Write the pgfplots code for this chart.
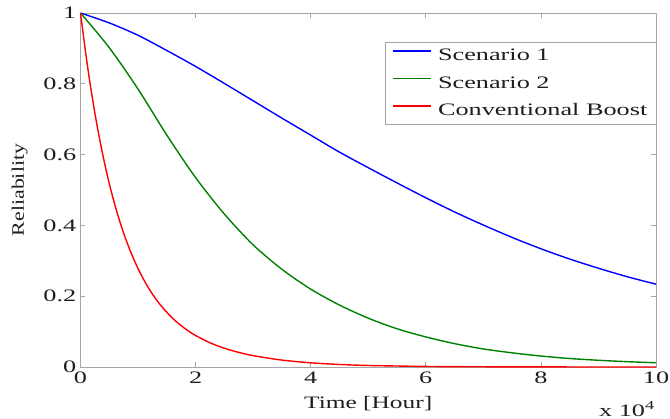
\documentclass[border=0pt]{standalone}
\usepackage{fontspec}
\usepackage{pgfplots}
\pgfplotsset{compat=1.18}
\setmainfont{Liberation Serif}
% wide serif faces for the figure text
\newfontfamily\tickfont{Liberation Serif}[FakeStretch=1.5]
\newfontfamily\xlabfont{Liberation Serif}[FakeStretch=1.45]
\newfontfamily\ylabfont{Liberation Serif}[FakeStretch=1.25]

\definecolor{mblue}{RGB}{0,0,255}
\definecolor{mgreen}{RGB}{0,128,0}
\definecolor{mred}{RGB}{255,0,0}
\definecolor{axgray}{RGB}{165,165,165}
\definecolor{txt}{RGB}{30,30,30}

% reliability versus time (time in units of 10^4 hours)
\pgfplotstableread{
t R
0    1
0.5  0.972
1    0.937
1.5  0.894
2    0.849
2.5  0.801
3    0.752
3.5  0.703
4    0.655
4.5  0.607
5    0.563
5.5  0.520
6    0.478
6.5  0.438
7    0.401
7.5  0.366
8    0.334
8.5  0.305
9    0.279
9.5  0.255
10   0.234
}\scenarioone

\pgfplotstableread{
t R
0    1
0.5  0.902
1    0.785
1.5  0.655
2    0.535
2.5  0.432
3    0.345
3.5  0.276
4    0.220
4.5  0.175
5    0.138
5.5  0.108
6    0.085
6.5  0.066
7    0.051
7.5  0.040
8    0.031
8.5  0.024
9    0.019
9.5  0.015
10   0.012
}\scenariotwo

\pgfplotstableread{
t R
0     1
0.125 0.846
0.25  0.717
0.375 0.609
0.5   0.518
0.625 0.442
0.75  0.378
0.875 0.324
1     0.278
1.125 0.239
1.25  0.206
1.375 0.178
1.5   0.1545
1.625 0.134
1.75  0.1167
1.875 0.1017
2     0.0889
2.25  0.0684
2.5   0.0530
2.75  0.0413
3     0.0321
3.5   0.0195
4     0.0118
4.5   0.0072
5     0.0043
6     0.0016
7     0.0006
8     0.0002
10    0.00003
}\conventional

\begin{document}
\begin{tikzpicture}
\begin{axis}[
  at={(0,0)}, anchor=origin,
  scale only axis,
  width=575.5bp, height=354bp,
  xmin=0, xmax=10, ymin=0, ymax=1,
  xtick={0,2,...,10},
  ytick={0,0.2,0.4,0.6,0.8,1},
  tick pos=both,
  tick align=inside,
  major tick length=5bp,
  axis line style={draw=axgray, line width=0.9bp},
  every tick/.style={draw=axgray, line width=0.8bp},
  /pgf/number format/assume math mode=true,
  ticklabel style={font=\tickfont\fontsize{17.5bp}{20bp}\selectfont, text=txt},
  xticklabel style={anchor=north, inner sep=0pt, yshift=-4.5bp},
  yticklabel style={anchor=east, inner sep=0pt, xshift=-4bp},
  xlabel={Time [Hour]},
  xlabel style={at={(axis description cs:0.5,0)}, anchor=base, yshift=-41bp,
    font=\xlabfont\fontsize{17.5bp}{20bp}\selectfont, text=txt, inner sep=0pt},
  ylabel={Reliability},
  ylabel style={at={([xshift=-56.5bp]axis description cs:0,0.5)}, anchor=base,
    font=\ylabfont\fontsize{17.5bp}{20bp}\selectfont, text=txt, inner sep=0pt},
  legend style={
    at={(axis description cs:0.5283,0.9181)}, anchor=north west,
    draw=axgray, fill=white,
    inner xsep=7bp, inner ysep=5bp,
    row sep=10.2bp, column sep=4.5bp,
    font=\tickfont\fontsize{17.5bp}{20bp}\selectfont, text=txt,
  },
  legend cell align=left,
  legend image code/.code={%
    \draw[#1, line width=1.8bp] (0bp,4.5bp) -- (38bp,4.5bp);},
  clip=false,
]
\addplot[draw=mblue, line width=1.4bp, smooth] table[x=t, y=R] {\scenarioone};
\addlegendentry{Scenario 1}
\addplot[draw=mgreen, line width=1.4bp, smooth] table[x=t, y=R] {\scenariotwo};
\addlegendentry{Scenario 2}
\addplot[draw=mred, line width=1.4bp, smooth] table[x=t, y=R] {\conventional};
\addlegendentry{Conventional Boost}

\node[anchor=base east, inner sep=0pt, text=txt,
      font=\tickfont\fontsize{17.5bp}{20bp}\selectfont]
  at ([xshift=-1bp, yshift=-49bp]rel axis cs:1,0) {x 10\textsuperscript{4}};
\end{axis}
\pgfresetboundingbox
\path (-80.5bp,-52bp) rectangle (589.5bp,367bp);
\end{tikzpicture}
\end{document}
